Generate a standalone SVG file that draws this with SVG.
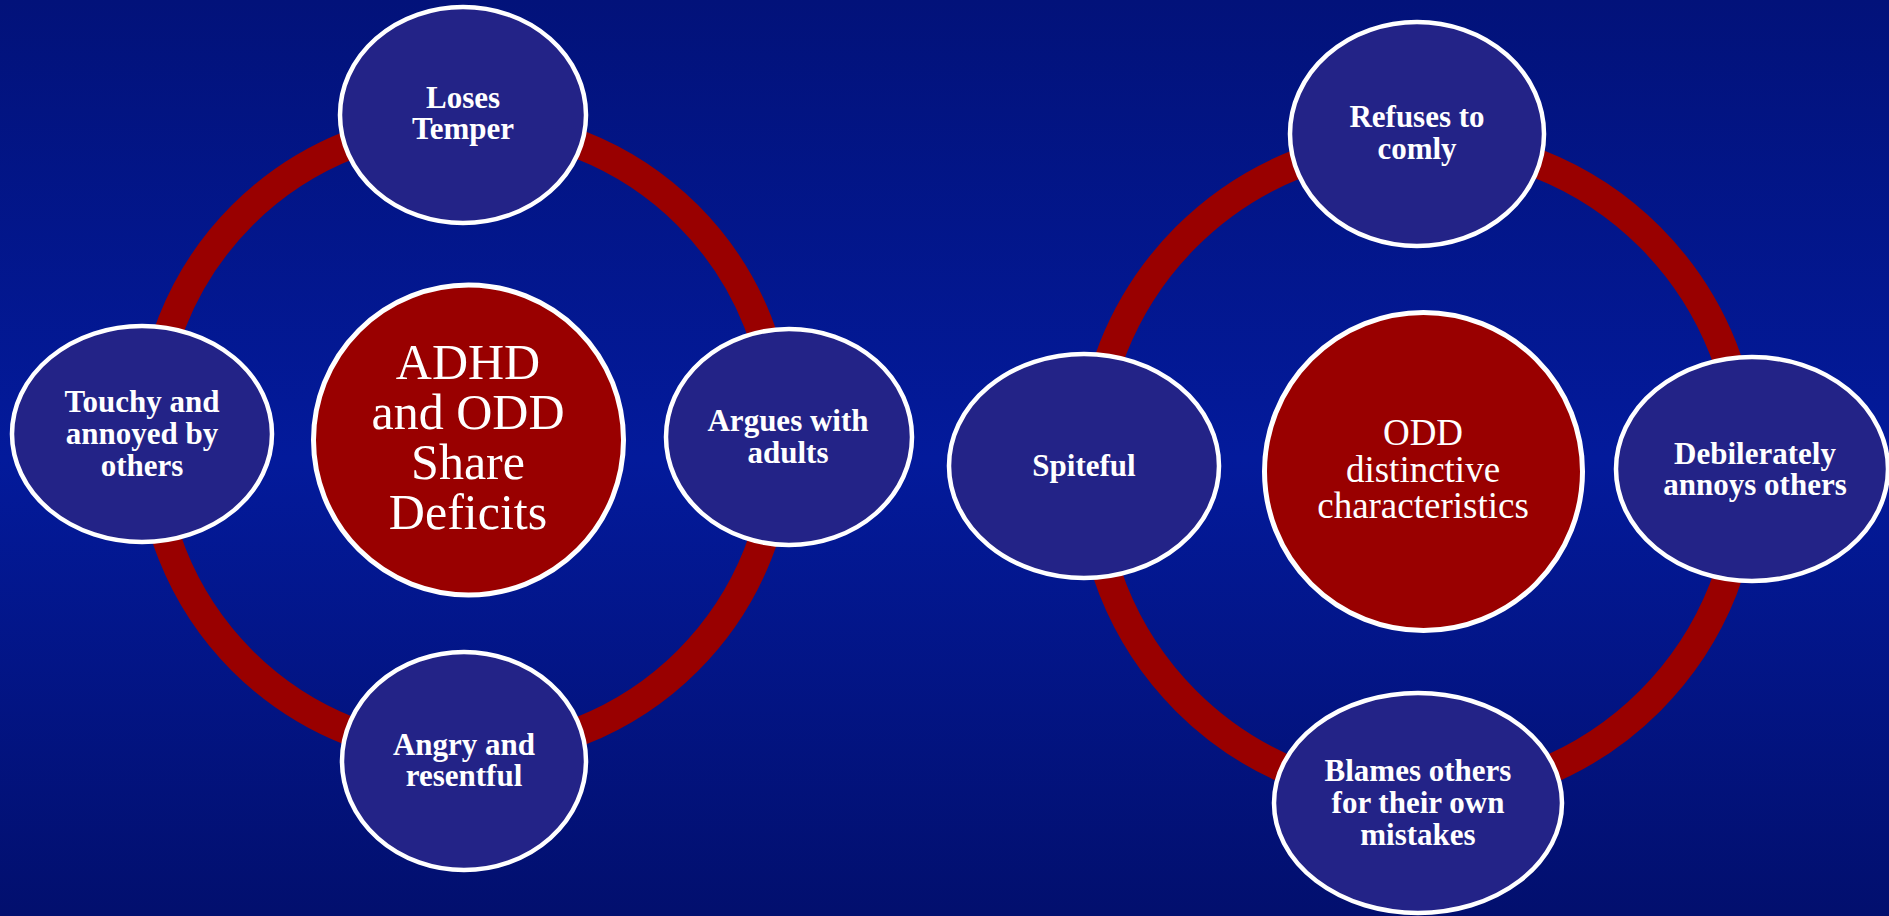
<svg xmlns="http://www.w3.org/2000/svg" width="1889" height="916" viewBox="0 0 1889 916">
<defs>
<linearGradient id="bg" x1="0" y1="0" x2="0" y2="1">
<stop offset="0" stop-color="#02127a"/>
<stop offset="0.5" stop-color="#031a9b"/>
<stop offset="1" stop-color="#020f6e"/>
</linearGradient>
<style>
.ring{fill:none;stroke:#990000;stroke-width:29}
.node ellipse{fill:#232387;stroke:#ffffff;stroke-width:4.5}
.hub circle{fill:#990000;stroke:#ffffff;stroke-width:5}
.lbl{font-family:"Liberation Serif","Times New Roman",serif;font-weight:bold;font-size:31px;fill:#ffffff;text-anchor:middle}
.hubl{font-family:"Liberation Serif","Times New Roman",serif;fill:#ffffff;text-anchor:middle}
</style>
</defs>
<rect x="0" y="0" width="1889" height="916" fill="url(#bg)"/>
<g id="connectors">
<circle class="ring" cx="465" cy="438" r="315"/>
<circle class="ring" cx="1418" cy="469" r="328"/>
</g>
<g id="hub-left" class="hub">
<circle cx="468.5" cy="440" r="155"/>
<text class="hubl" font-size="50"><tspan x="468" y="379">ADHD</tspan><tspan x="468" y="429">and ODD</tspan><tspan x="468" y="479">Share</tspan><tspan x="468" y="529">Deficits</tspan></text>
</g>
<g id="n-loses" class="node">
<ellipse cx="463" cy="115" rx="123" ry="108"/>
<text class="lbl"><tspan x="463" y="108">Loses</tspan><tspan x="463" y="139">Temper</tspan></text>
</g>
<g id="n-touchy" class="node">
<ellipse cx="142" cy="434" rx="130" ry="108"/>
<text class="lbl"><tspan x="142" y="412">Touchy and</tspan><tspan x="142" y="444">annoyed by</tspan><tspan x="142" y="476">others</tspan></text>
</g>
<g id="n-argues" class="node">
<ellipse cx="789" cy="437" rx="123" ry="108"/>
<text class="lbl"><tspan x="788" y="431">Argues with</tspan><tspan x="788" y="463">adults</tspan></text>
</g>
<g id="n-angry" class="node">
<ellipse cx="464" cy="761" rx="122" ry="109"/>
<text class="lbl"><tspan x="464" y="755">Angry and</tspan><tspan x="464" y="786">resentful</tspan></text>
</g>
<g id="hub-right" class="hub">
<circle cx="1423.5" cy="471.5" r="159"/>
<text class="hubl" font-size="37"><tspan x="1423" y="445">ODD</tspan><tspan x="1423" y="482">distinctive</tspan><tspan x="1423" y="518">characteristics</tspan></text>
</g>
<g id="n-refuses" class="node">
<ellipse cx="1417" cy="134" rx="127" ry="112"/>
<text class="lbl"><tspan x="1417" y="127">Refuses to</tspan><tspan x="1417" y="159">comly</tspan></text>
</g>
<g id="n-spiteful" class="node">
<ellipse cx="1084" cy="466" rx="135" ry="112"/>
<text class="lbl" x="1084" y="476">Spiteful</text>
</g>
<g id="n-debilerately" class="node">
<ellipse cx="1752" cy="469" rx="136" ry="112"/>
<text class="lbl"><tspan x="1755" y="464">Debilerately</tspan><tspan x="1755" y="495">annoys others</tspan></text>
</g>
<g id="n-blames" class="node">
<ellipse cx="1418" cy="803" rx="144" ry="110"/>
<text class="lbl"><tspan x="1418" y="781">Blames others</tspan><tspan x="1418" y="813">for their own</tspan><tspan x="1418" y="845">mistakes</tspan></text>
</g>
</svg>
